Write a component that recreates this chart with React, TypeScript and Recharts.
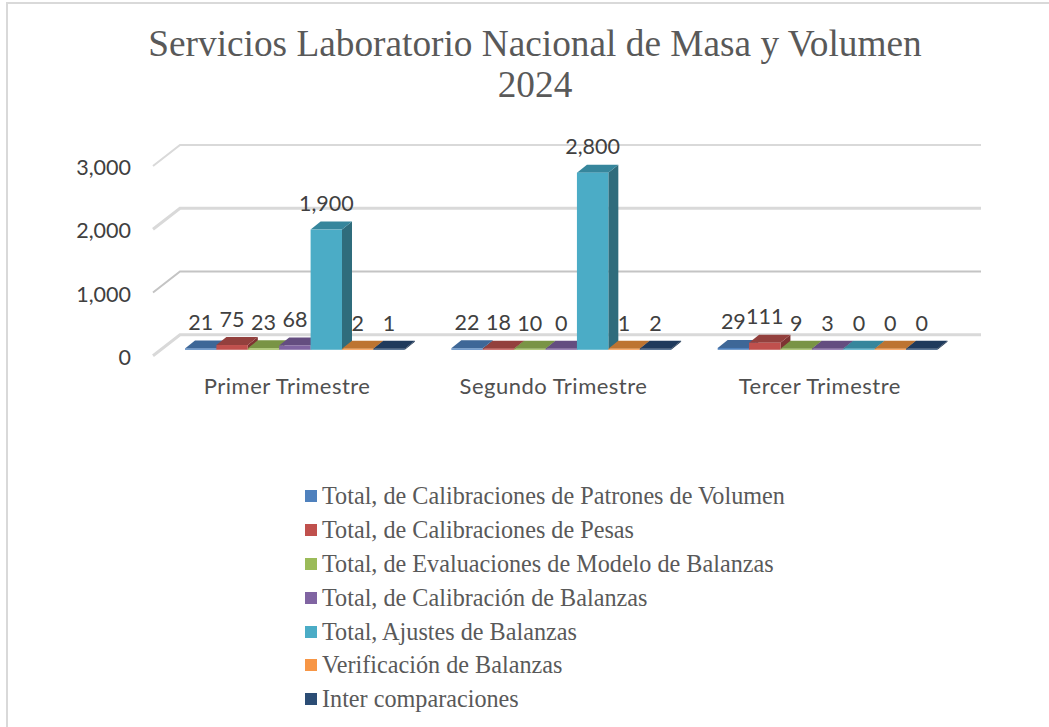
import { Bar, BarChart, CartesianGrid, LabelList, Legend, XAxis, YAxis } from 'recharts';

const quarters = ['Primer Trimestre', 'Segundo Trimestre', 'Tercer Trimestre'];
const yTicks = [0, 1000, 2000, 3000];

const patronesVolumen = [21, 22, 29];
const pesas = [75, 18, 111];
const modeloBalanzas = [23, 10, 9];
const calibracionBalanzas = [68, 0, 3];
const ajustesBalanzas = [1900, 2800, 0];
const verificacionBalanzas = [2, 1, 0];
const interComparaciones = [1, 2, 0];

const series = [
  { key: 'a', name: 'Total, de Calibraciones de Patrones de Volumen', values: patronesVolumen, color: '#4f81bd', top: '#3e6797', side: '#325478' },
  { key: 'b', name: 'Total, de Calibraciones de Pesas', values: pesas, color: '#c0504d', top: '#93403d', side: '#7e3432' },
  { key: 'c', name: 'Total, de Evaluaciones de Modelo de Balanzas', values: modeloBalanzas, color: '#9bbb59', top: '#799445', side: '#637a38' },
  { key: 'd', name: 'Total, de Calibración de Balanzas', values: calibracionBalanzas, color: '#8064a2', top: '#644d80', side: '#523f69' },
  { key: 'e', name: 'Total, Ajustes de Balanzas', values: ajustesBalanzas, color: '#4bacc6', top: '#36869c', side: '#2f6c7c' },
  { key: 'f', name: 'Verificación de Balanzas', values: verificacionBalanzas, color: '#f79646', top: '#bd7431', side: '#9c5f28' },
  { key: 'g', name: 'Inter comparaciones', values: interComparaciones, color: '#2c4d75', top: '#1f3a5c', side: '#1a304c' },
];

const rows = quarters.map((quarter, i) => {
  const row: Record<string, string | number> = { quarter };
  series.forEach((s) => {
    row[s.key] = s.values[i];
  });
  return row;
});

const DEPTH_X = 10;
const DEPTH_Y = 8;
const SANS = 'Lato, sans-serif';
const SERIF = '"Liberation Serif", serif';

function box3d(color: string, top: string, side: string) {
  return (props: any) => {
    const { x, y, width, height } = props;
    const bottom = y + height;
    const faceHeight = Math.max(height, 1);
    const faceTop = bottom - faceHeight;
    return (
      <g>
        <path d={`M${x + width},${faceTop} l${DEPTH_X},${-DEPTH_Y} V${bottom - DEPTH_Y} L${x + width},${bottom} Z`} fill={side} />
        <path d={`M${x},${faceTop} l${DEPTH_X},${-DEPTH_Y} h${width} l${-DEPTH_X},${DEPTH_Y} Z`} fill={top} />
        <rect x={x} y={faceTop} width={width} height={faceHeight} fill={color} />
      </g>
    );
  };
}

function barLabel(props: any) {
  const { x, y, width, value } = props;
  return (
    <text x={x + width / 2} y={y - 26.5} textAnchor="middle" dominantBaseline="central" fontFamily={SANS} fontSize={21.5} fill="#404040">
      {Number(value).toLocaleString('en-US')}
    </text>
  );
}

function wallLine(props: any) {
  const { x1, x2, y1, index } = props;
  const heavy = index === 0 || index === 2;
  const stroke = index === 1 ? '#c4c4c4' : '#d9d9d9';
  return (
    <g key={y1} fill="none" stroke={stroke} strokeWidth={heavy ? 3 : 2}>
      <path d={`M${x1 - 9},${y1 + 6} L${x1 + 18},${y1 - 15} H${x2 + 20}`} />
    </g>
  );
}

function yTick(props: any) {
  const { y, payload } = props;
  return (
    <text x={131} y={y + 7} textAnchor="end" dominantBaseline="central" fontFamily={SANS} fontSize={21.5} fill="#404040">
      {Number(payload.value).toLocaleString('en-US')}
    </text>
  );
}

function xTick(props: any) {
  const { x, y, payload } = props;
  return (
    <text x={x - 8} y={y + 28} textAnchor="middle" dominantBaseline="central" fontFamily={SANS} fontSize={22} letterSpacing={0.5} fill="#505050">
      {payload.value}
    </text>
  );
}

function legendBox() {
  return (
    <div style={{ fontFamily: SERIF, fontSize: 24.2, color: '#595959', whiteSpace: 'nowrap' }}>
      {series.map((s) => (
        <div key={s.key} style={{ height: 33.9, display: 'flex', alignItems: 'center' }}>
          <span style={{ width: 12, height: 12, background: s.color, marginRight: 5 }} />
          {s.name}
        </div>
      ))}
    </div>
  );
}

export default function App() {
  return (
    <div style={{ position: 'absolute', left: 0, top: 0, width: 1049, height: 727, background: '#fff', overflow: 'hidden' }}>
      <div style={{ position: 'absolute', left: 6, top: 2, width: 1100, height: 800, border: '2px solid #d9d9d9' }} />
      <div style={{ position: 'absolute', left: 0, width: 1070, top: 23, textAlign: 'center', fontFamily: SERIF, fontSize: 37.3, lineHeight: '41px', color: '#595959' }}>
        Servicios Laboratorio Nacional de Masa y Volumen
        <br />
        2024
      </div>
      <BarChart
        width={1049}
        height={727}
        data={rows}
        barSize={31.4}
        barGap={0}
        margin={{ top: 160, right: 88, bottom: 110, left: 0 }}
      >
        <CartesianGrid vertical={false} horizontal={wallLine} />
        <XAxis dataKey="quarter" axisLine={false} tickLine={false} tick={xTick} height={30} interval={0} />
        <YAxis width={162} domain={[0, 3000]} ticks={yTicks} axisLine={false} tickLine={false} tick={yTick} />
        <Legend content={legendBox} wrapperStyle={{ left: 305, top: 479, bottom: 'auto', width: 700 }} />
        {series.map((s) => (
          <Bar key={s.key} dataKey={s.key} name={s.name} fill={s.color} isAnimationActive={false} shape={box3d(s.color, s.top, s.side)}>
            <LabelList dataKey={s.key} content={barLabel} />
          </Bar>
        ))}
      </BarChart>
    </div>
  );
}
